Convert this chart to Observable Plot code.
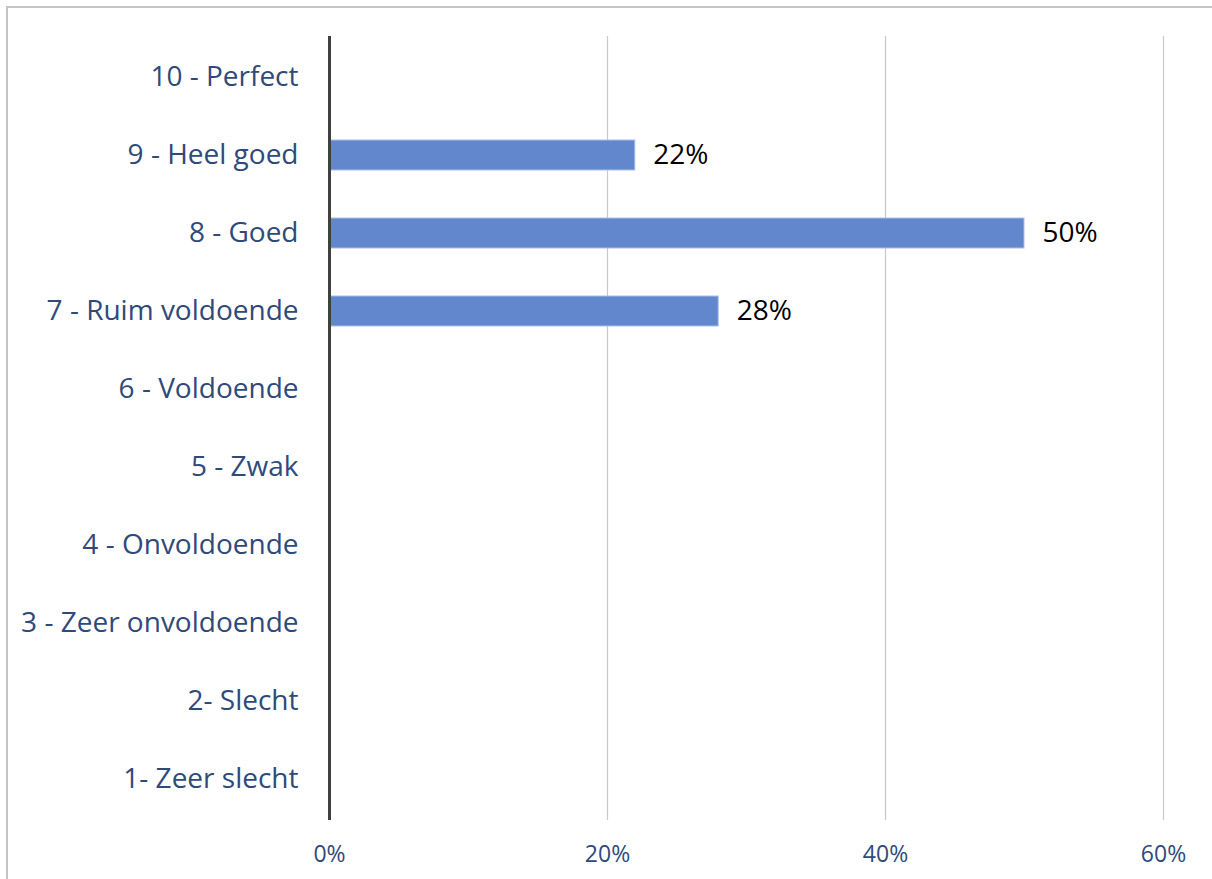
<!DOCTYPE html>
<html>
<head>
<meta charset="utf-8">
<script src="https://cdn.jsdelivr.net/npm/d3@7"></script>
<script src="https://cdn.jsdelivr.net/npm/@observablehq/plot@0.6"></script>
<style>
  html, body { margin: 0; padding: 0; background: #fff; }
  #wrap { position: relative; width: 1212px; height: 879px; overflow: hidden; }
  #frame { position: absolute; left: 6px; top: 6px; width: 1220px; height: 900px;
           border-left: 2px solid #c4c4c4; border-top: 2px solid #c4c4c4; box-sizing: border-box; }
  #chart { position: absolute; left: 0; top: 0; }
</style>
</head>
<body>
<div id="wrap"><div id="frame"></div><div id="chart"></div></div>
<script>
const categories = [
  "10 - Perfect",
  "9 - Heel goed",
  "8 - Goed",
  "7 - Ruim voldoende",
  "6 - Voldoende",
  "5 - Zwak",
  "4 - Onvoldoende",
  "3 - Zeer onvoldoende",
  "2- Slecht",
  "1- Zeer slecht"
];
const values = [0, 0.22, 0.50, 0.28, 0, 0, 0, 0, 0, 0];
const xTicks = [0, 0.2, 0.4, 0.6];

const data = categories.map((c, i) => ({category: c, value: values[i]}));
const labeled = data.filter(d => d.value > 0);
const pct = d3.format(".0%");

const chart = Plot.plot({
  width: 1212,
  height: 879,
  marginLeft: 329,
  marginRight: 49,
  marginTop: 36,
  marginBottom: 59,
  style: { fontFamily: "'Open Sans', 'Noto Sans', sans-serif", background: "transparent" },
  x: { domain: [0, 0.6], ticks: xTicks, tickFormat: pct, label: null },
  y: { domain: categories, padding: 0.617, paddingOuter: 0.3085, label: null },
  marks: [
    Plot.ruleX(xTicks.filter(t => t > 0), { stroke: "#c8c8c8", strokeWidth: 1.2 }),
    Plot.barX(data, { x: "value", y: "category", fill: "#6287cd", stroke: "#a9c0e9", strokeWidth: 1 }),
    Plot.ruleX([0], { stroke: "#404040", strokeWidth: 3 }),
    Plot.text(labeled, { x: "value", y: "category", text: d => pct(d.value), dx: 18, textAnchor: "start", fill: "#000", fontSize: 28 }),
    Plot.axisX({ ticks: xTicks, tickFormat: pct, tickSize: 0, tickPadding: 25, fontSize: 23, fill: "#2f4a7a", label: null }),
    Plot.axisY({ tickSize: 0, tickPadding: 31, fontSize: 28, fill: "#2f4a7a", label: null })
  ]
});
document.getElementById("chart").appendChild(chart);
</script>
</body>
</html>
